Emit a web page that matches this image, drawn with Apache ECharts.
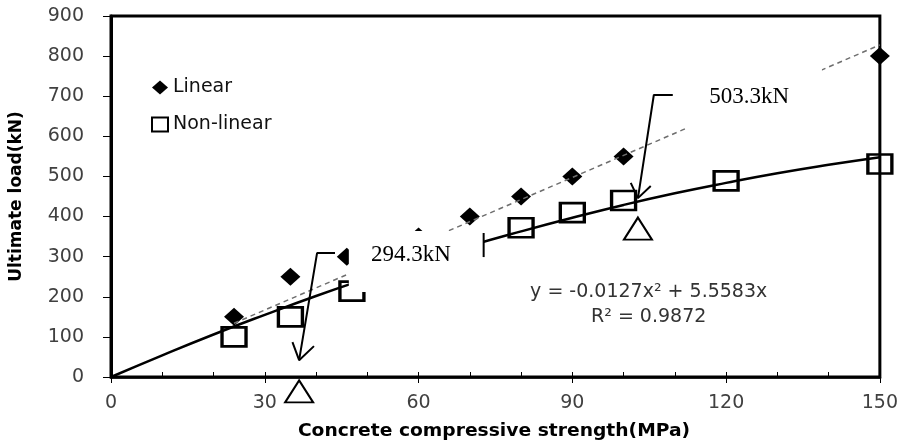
<!DOCTYPE html>
<html><head><meta charset="utf-8">
<script src="https://cdn.jsdelivr.net/npm/echarts@6/dist/echarts.min.js"></script>
<style>html,body{margin:0;padding:0;background:#fff}#c{width:901px;height:446px}</style>
</head><body><div id="c"></div>
<script>
// ---- data ----
const linearX = [24, 35, 46, 60, 70, 80, 90, 100, 150];
const linearY = [150, 250, 300, 350, 400, 450, 500, 550, 800];
const nonlinearX = [24, 35, 47, 80, 90, 100, 120, 150];
const nonlinearY = [100, 150, 214, 372, 410, 440, 489, 531];
// linear (dashed) trendline endpoints
const linTrendX = [24, 150];
const linTrendY = [134, 828];
// polynomial trendline
const polyX = [0, 10, 20, 30, 40, 50, 60, 70, 80, 90, 100, 110, 120, 130, 140, 150];
const polyY = [0, 54, 106, 155, 202, 246, 288, 327, 363, 397, 429, 458, 484, 508, 529, 548];
// open triangle marks
const triX = [36.7, 102.8];
const triY = [-36, 370];
// callout arrows (polylines in data units)
const arrow1 = [[43.7, 309], [40.2, 309], [36.7, 42]];
const arrow1Head = [[35.4, 87], [36.7, 42], [39.6, 77]];
const arrow2 = [[109.6, 703], [105.9, 703], [102.8, 446]];
const arrow2Head = [[101.4, 484], [102.8, 446], [105.3, 476]];
const tickMark = [[72.7, 359], [72.7, 299]];
// white masking boxes [x0, y0, x1, y1]
const maskBoxes = [[46.4, 364, 72.7, 212], [112.5, 790, 138.7, 603]];
// callout texts
const calloutLabels = ['294.3kN', '503.3kN'];
const calloutPos = [[58.5, 304], [124.5, 698]];
const eqLabels = ['y = -0.0127x\u00b2 + 5.5583x', 'R\u00b2 = 0.9872'];
const eqPos = [[104.9, 212], [104.9, 150]];
const xTicks = [0, 30, 60, 90, 120, 150];

const zip = (a, b) => a.map((v, i) => [v, b[i]]);
const chart = echarts.init(document.getElementById('c'), null, {renderer: 'canvas'});

const lineSeg = (data, z) => ({
  type: 'line', data: data, symbol: 'none', silent: true, clip: false, z: z,
  lineStyle: {color: '#000', width: 2}
});

const textItems = calloutPos.map((p, i) => [p[0], p[1], i, 0])
  .concat(eqPos.map((p, i) => [p[0], p[1], i, 1]));

chart.setOption({
  animation: false,
  grid: {left: 108, right: 21, top: 16, bottom: 69, show: true, borderColor: '#000', borderWidth: 3},
  legend: {
    data: ['Linear', 'Non-linear'], orient: 'vertical', left: 146, top: 73,
    itemWidth: 16, itemHeight: 14, itemGap: 18, selectedMode: false,
    textStyle: {fontSize: 19, fontFamily: 'DejaVu Sans', color: '#111'}
  },
  xAxis: [{
    type: 'value', min: 0, max: 150, interval: 10,
    axisLine: {lineStyle: {color: '#000', width: 2.5}},
    axisTick: {inside: true, length: 5, lineStyle: {color: '#000', width: 1}},
    axisLabel: {
      formatter: v => (xTicks.indexOf(v) >= 0 ? String(v) : ''),
      margin: 17, fontSize: 19, fontFamily: 'DejaVu Sans', color: '#404040'
    },
    splitLine: {show: false}
  }, {
    type: 'value', min: 0, max: 150, interval: 30, position: 'bottom',
    axisLine: {show: false},
    axisTick: {inside: false, length: 6, lineStyle: {color: '#000', width: 1}},
    axisLabel: {show: false}, splitLine: {show: false}
  }],
  yAxis: {
    type: 'value', min: 0, max: 900, interval: 100,
    name: 'Ultimate load(kN)', nameLocation: 'middle', nameGap: 86,
    nameTextStyle: {fontSize: 17, fontWeight: 'bold', fontFamily: 'DejaVu Sans', color: '#000'},
    axisLine: {lineStyle: {color: '#000', width: 3}},
    axisTick: {inside: false, length: 8, lineStyle: {color: '#000', width: 1}},
    axisLabel: {margin: 27, fontSize: 19, fontFamily: 'DejaVu Sans', color: '#404040'},
    splitLine: {show: false}
  },
  graphic: [{
    type: 'text', x: 494, y: 432, scaleX: 1.1, z: 100,
    style: {text: 'Concrete compressive strength(MPa)', fontSize: 17, fontWeight: 'bold',
      fontFamily: 'DejaVu Sans', fill: '#000', align: 'center', verticalAlign: 'middle'}
  }],
  series: [
    {name: 'Linear', type: 'scatter', data: zip(linearX, linearY), symbol: 'diamond',
      symbolSize: [20, 18], itemStyle: {color: '#000', opacity: 1}, z: 3},
    {name: 'Non-linear', type: 'scatter', data: zip(nonlinearX, nonlinearY), symbol: 'rect',
      symbolSize: [24, 19], itemStyle: {color: 'rgba(255,255,255,0)', borderColor: '#000', borderWidth: 3, opacity: 1}, z: 3},
    {type: 'line', data: zip(linTrendX, linTrendY), symbol: 'none', silent: true, z: 4,
      lineStyle: {color: '#6e6e6e', width: 1.5, type: [5, 4]}},
    {type: 'line', data: zip(polyX, polyY), symbol: 'none', smooth: true, silent: true, z: 4,
      lineStyle: {color: '#000', width: 2.5}},
    {type: 'scatter', data: zip(triX, triY), symbol: 'triangle', symbolSize: [28, 22], clip: false, z: 4,
      itemStyle: {color: '#fff', borderColor: '#000', borderWidth: 2, opacity: 1}},
    {type: 'custom', data: maskBoxes, z: 6, clip: false, silent: true,
      renderItem: (params, api) => {
        const p0 = api.coord([api.value(0), api.value(1)]);
        const p1 = api.coord([api.value(2), api.value(3)]);
        return {type: 'rect', shape: {x: Math.min(p0[0], p1[0]), y: Math.min(p0[1], p1[1]),
          width: Math.abs(p1[0] - p0[0]), height: Math.abs(p1[1] - p0[1])}, style: {fill: '#fff'}};
      }},
    lineSeg(arrow1, 7), lineSeg(arrow1Head, 7), lineSeg(arrow2, 7), lineSeg(arrow2Head, 7), lineSeg(tickMark, 7),
    {type: 'custom', data: textItems, z: 8, clip: false, silent: true,
      renderItem: (params, api) => {
        const p = api.coord([api.value(0), api.value(1)]);
        const kind = api.value(3);
        const idx = api.value(2);
        const isCallout = kind === 0;
        return {type: 'text', x: p[0], y: p[1], style: {
          text: isCallout ? calloutLabels[idx] : eqLabels[idx],
          fontSize: isCallout ? 23 : 19,
          fontFamily: isCallout ? 'Liberation Serif' : 'DejaVu Sans',
          fill: isCallout ? '#000' : '#333', align: 'center', verticalAlign: 'middle'}};
      }}
  ]
});
</script></body></html>
